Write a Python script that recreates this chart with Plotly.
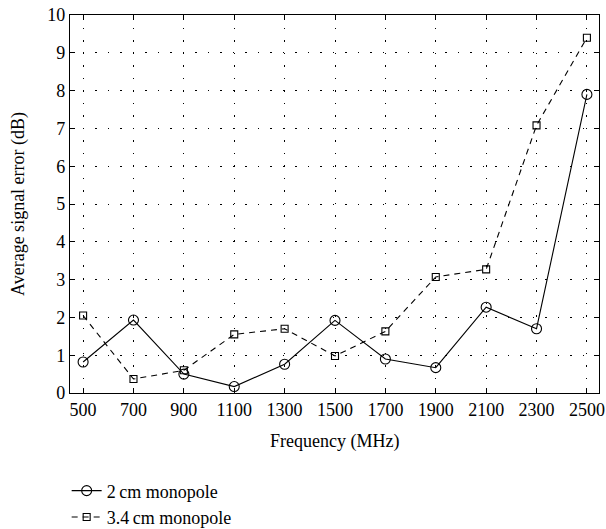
import plotly.graph_objects as go

# Frequency points (MHz)
frequency = [500, 700, 900, 1100, 1300, 1500, 1700, 1900, 2100, 2300, 2500]

# Average signal error (dB) for each monopole length
err_2cm = [0.82, 1.93, 0.50, 0.17, 0.76, 1.92, 0.90, 0.67, 2.27, 1.70, 7.90]
err_34cm = [2.05, 0.37, 0.60, 1.55, 1.70, 0.98, 1.63, 3.07, 3.27, 7.08, 9.40]

x_ticks = frequency
y_ticks = list(range(0, 11))

x_title = "Frequency (MHz)"
y_title = "Average signal error (dB)"

FONT = "Liberation Serif"
TXT = dict(family=FONT, size=18, color="black")

fig = go.Figure()
fig.add_trace(go.Scatter(
    x=frequency, y=err_2cm, name="2\u2009cm monopole",
    mode="lines+markers",
    line=dict(color="black", width=1.1, dash="solid"),
    marker=dict(symbol="circle-open", size=10, color="black", line=dict(width=1.1)),
))
fig.add_trace(go.Scatter(
    x=frequency, y=err_34cm, name="3.4\u2009cm monopole",
    mode="lines+markers",
    line=dict(color="black", width=1.1, dash="6px,5px"),
    marker=dict(symbol="square-open", size=7, color="black", line=dict(width=1.1)),
))

axis_common = dict(
    showline=True, linecolor="black", linewidth=1.2, mirror="ticks",
    ticks="inside", ticklen=5, tickwidth=1.2, tickcolor="black",
    showgrid=True, gridcolor="black", gridwidth=1, griddash="1.5px,11px",
    zeroline=False, automargin=False,
    tickfont=TXT,
)

fig.update_xaxes(range=[448, 2548], tickvals=x_ticks, **axis_common)
fig.update_yaxes(range=[0, 10], tickvals=y_ticks, **axis_common)

# Axis titles placed relative to the plotting area
fig.add_annotation(text=x_title, xref="paper", yref="paper", x=0.5, y=0,
                   xanchor="center", yanchor="middle", yshift=-48,
                   showarrow=False, font=TXT)
fig.add_annotation(text=y_title, xref="paper", yref="paper", x=0, y=0.5,
                   xanchor="center", yanchor="middle", xshift=-52, textangle=-90,
                   showarrow=False, font=TXT)

fig.update_layout(
    width=606, height=529,
    margin=dict(l=70, r=7, t=15, b=136, autoexpand=False),
    paper_bgcolor="white", plot_bgcolor="white",
    font=dict(family=FONT),
    showlegend=True,
    legend=dict(
        x=0.11, y=0.107, xanchor="left", yanchor="top",
        xref="container", yref="container",
        font=TXT,
        tracegroupgap=0, itemwidth=30, bgcolor="rgba(0,0,0,0)",
    ),
)

fig.write_html("out.html")
